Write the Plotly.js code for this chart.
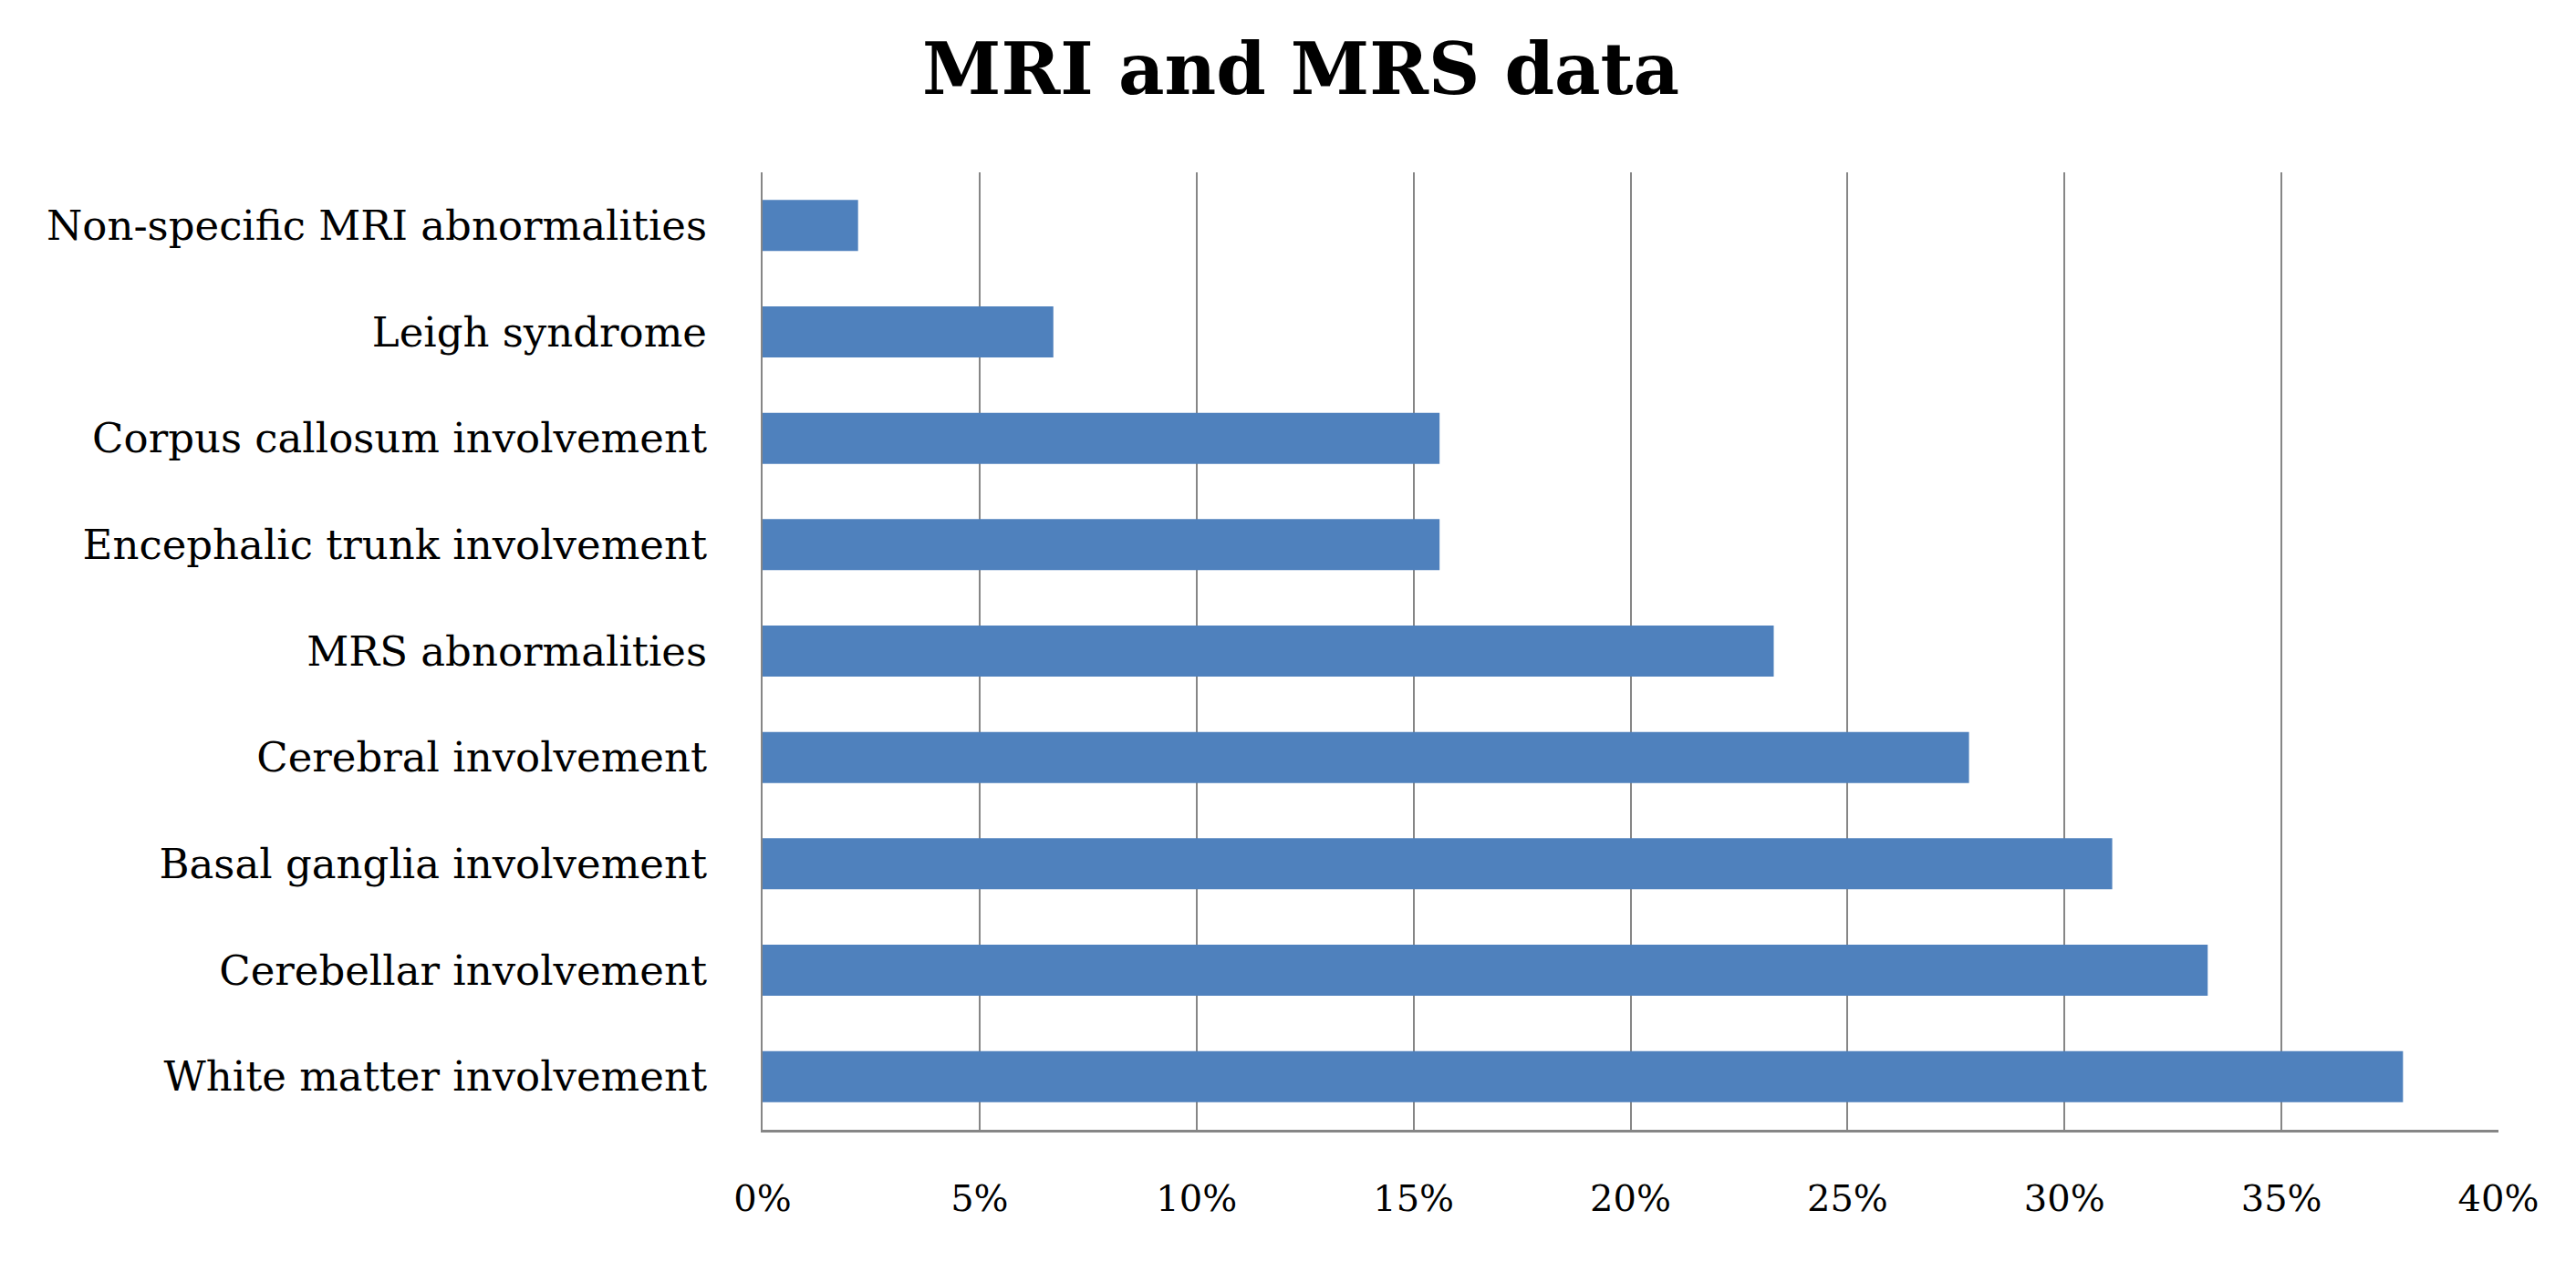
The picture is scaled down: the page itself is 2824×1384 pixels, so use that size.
<!DOCTYPE html>
<html>
<head>
<meta charset="utf-8">
<script src="https://cdn.plot.ly/plotly-3.0.1.min.js"></script>
<style>html,body{margin:0;padding:0;background:#fff;}#chart{width:2824px;height:1384px;}</style>
</head>
<body>
<div id="chart"></div>
<script>
const categories = [
  "White matter involvement",
  "Cerebellar involvement",
  "Basal ganglia involvement",
  "Cerebral involvement",
  "MRS abnormalities",
  "Encephalic trunk involvement",
  "Corpus callosum involvement",
  "Leigh syndrome",
  "Non-specific MRI abnormalities"
];
const values = [0.378, 0.333, 0.311, 0.278, 0.233, 0.156, 0.156, 0.067, 0.022];
const xTicks = [0, 0.05, 0.10, 0.15, 0.20, 0.25, 0.30, 0.35, 0.40];
const xTickLabels = ["0%", "5%", "10%", "15%", "20%", "25%", "30%", "35%", "40%"];

const font = "'DejaVu Serif', 'Liberation Serif', serif";

Plotly.newPlot("chart", [{
  type: "bar",
  orientation: "h",
  y: categories,
  x: values,
  marker: {color: "#4F81BD"},
  hoverinfo: "x+y"
}], {
  width: 2824,
  height: 1384,
  margin: {l: 836, r: 85, t: 189, b: 145},
  paper_bgcolor: "#ffffff",
  plot_bgcolor: "#ffffff",
  bargap: 0.52,
  showlegend: false,
  title: {
    text: "<b>MRI and MRS data</b>",
    x: 0.505, xanchor: "center",
    y: 0.945, yanchor: "middle",
    font: {family: font, size: 78, color: "#000000"}
  },
  xaxis: {
    range: [0, 0.40],
    tickvals: xTicks,
    ticktext: xTickLabels,
    showgrid: true,
    gridcolor: "#868686",
    gridwidth: 2,
    zeroline: false,
    showline: true,
    linecolor: "#868686",
    linewidth: 3,
    ticks: "",
    ticklabelstandoff: 38,
    tickfont: {family: font, size: 40, color: "#000000"}
  },
  yaxis: {
    type: "category",
    showgrid: false,
    showline: true,
    linecolor: "#868686",
    linewidth: 2,
    ticks: "",
    ticklabelstandoff: 50,
    tickfont: {family: font, size: 45, color: "#000000"}
  }
}, {displayModeBar: false, staticPlot: true});
</script>
</body>
</html>
